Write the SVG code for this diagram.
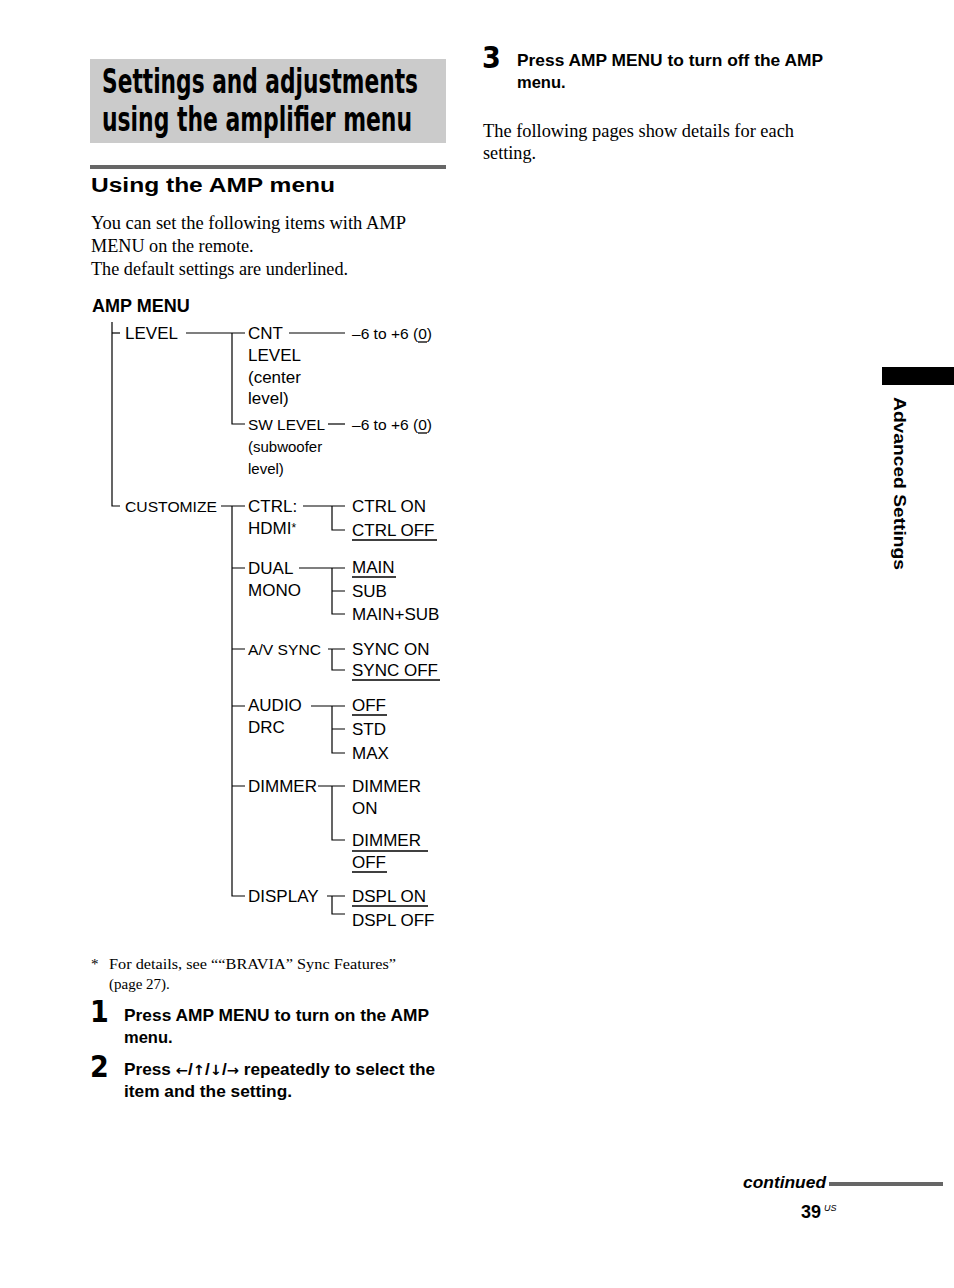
<svg xmlns="http://www.w3.org/2000/svg" width="954" height="1288" viewBox="0 0 954 1288">
<style>
.title{font-family:"Liberation Sans Narrow","DejaVu Sans Condensed","Liberation Sans",sans-serif;font-weight:bold;font-size:34px;fill:#000}
.h2{font-family:"Liberation Sans",sans-serif;font-weight:900;font-size:20px;fill:#000}
.body{font-family:"Liberation Serif",serif;font-size:18.2px;fill:#000}
.foot{font-family:"Liberation Serif",serif;font-size:15px;fill:#000}
.hd{font-family:"Liberation Sans",sans-serif;font-weight:bold;font-size:18px;fill:#000}
.t{font-family:"Liberation Sans",sans-serif;font-size:17px;fill:#000}
.ts{font-family:"Liberation Sans",sans-serif;font-size:15px;fill:#000}
.step{font-family:"Liberation Sans",sans-serif;font-weight:bold;font-size:16.5px;fill:#000}
.num{font-family:"Liberation Sans Narrow","DejaVu Sans Condensed","Liberation Sans",sans-serif;font-weight:bold;font-size:30px;fill:#000}
.ar{font-family:"DejaVu Sans",sans-serif;font-weight:bold;font-size:14px}
.ln{stroke:#000;stroke-width:1.2;fill:none}
.ul{stroke:#000;stroke-width:1.3}
</style>
<rect x="0" y="0" width="954" height="1288" fill="#fff"/>
<g id="header">
<rect x="90" y="59" width="356" height="84" fill="#cbcbcb"/>
<text class="title" x="102" y="93" textLength="316" lengthAdjust="spacingAndGlyphs">Settings and adjustments</text>
<text class="title" x="102" y="131" textLength="310" lengthAdjust="spacingAndGlyphs">using the amplifier menu</text>
<rect x="90" y="165" width="356" height="4" fill="#666"/>
<text class="h2" x="91" y="192" textLength="244" lengthAdjust="spacingAndGlyphs">Using the AMP menu</text>
<text class="body" x="91" y="229" textLength="315" lengthAdjust="spacingAndGlyphs">You can set the following items with AMP</text>
<text class="body" x="91" y="252">MENU on the remote.</text>
<text class="body" x="91" y="275">The default settings are underlined.</text>
</g>
<g id="connectors">
<path class="ln" d="M112 322 V506 H120"/>
<path class="ln" d="M112 333 H120"/>
<path class="ln" d="M186 333 H245 M232 333 V424 H245"/>
<path class="ln" d="M289 333 H345"/>
<path class="ln" d="M328 424 H345"/>
<path class="ln" d="M221 506 H245 M232 506 V896 H245 M232 568 H245 M232 649 H245 M232 706 H245 M232 786 H245"/>
<path class="ln" d="M303 506 H345 M332 506 V530 H345"/>
<path class="ln" d="M299 568 H345 M332 568 V614 H345 M332 591 H345"/>
<path class="ln" d="M328 649 H345 M332 649 V670 H345"/>
<path class="ln" d="M311 706 H345 M332 706 V753 H345 M332 729 H345"/>
<path class="ln" d="M318 786 H345 M332 786 V840 H345"/>
<path class="ln" d="M327 896 H345 M332 896 V914 H345"/>
</g>
<g id="amp-menu"><text class="hd" x="92" y="312">AMP MENU</text></g>
<g id="level"><text class="t" x="125" y="339">LEVEL</text></g>
<g id="cnt-level">
<text class="t" x="248" y="339">CNT</text>
<text class="t" x="248" y="361">LEVEL</text>
<text class="t" x="248" y="383">(center</text>
<text class="t" x="248" y="404">level)</text>
</g>
<g id="cnt-range"><text class="ts" x="352" y="339" textLength="80" lengthAdjust="spacingAndGlyphs">–6 to +6 (0)</text><line class="ul" x1="418" y1="342" x2="427" y2="342"/></g>
<g id="sw-level">
<text class="ts" x="248" y="430" textLength="77" lengthAdjust="spacingAndGlyphs">SW LEVEL</text>
<text class="ts" x="248" y="452">(subwoofer</text>
<text class="ts" x="248" y="474">level)</text>
</g>
<g id="sw-range"><text class="ts" x="352" y="430" textLength="80" lengthAdjust="spacingAndGlyphs">–6 to +6 (0)</text><line class="ul" x1="418" y1="433" x2="427" y2="433"/></g>
<g id="customize"><text class="ts" x="125" y="512" textLength="92" lengthAdjust="spacingAndGlyphs">CUSTOMIZE</text></g>
<g id="ctrl-hdmi">
<text class="t" x="248" y="512">CTRL:</text>
<text class="t" x="248" y="534">HDMI<tspan font-size="12" dy="-2">*</tspan></text>
</g>
<g id="ctrl-on"><text class="t" x="352" y="512">CTRL ON</text></g>
<g id="ctrl-off"><text class="t" x="352" y="536">CTRL OFF</text><line class="ul" x1="352" y1="540" x2="437" y2="540"/></g>
<g id="dual-mono">
<text class="t" x="248" y="574">DUAL</text>
<text class="t" x="248" y="596">MONO</text>
</g>
<g id="main"><text class="t" x="352" y="573">MAIN</text><line class="ul" x1="352" y1="577" x2="396" y2="577"/></g>
<g id="sub"><text class="t" x="352" y="597">SUB</text></g>
<g id="main-sub"><text class="t" x="352" y="620">MAIN+SUB</text></g>
<g id="av-sync"><text class="ts" x="248" y="655" textLength="73" lengthAdjust="spacingAndGlyphs">A/V SYNC</text></g>
<g id="sync-on"><text class="t" x="352" y="655">SYNC ON</text></g>
<g id="sync-off"><text class="t" x="352" y="676">SYNC OFF</text><line class="ul" x1="352" y1="680" x2="440" y2="680"/></g>
<g id="audio-drc">
<text class="t" x="248" y="711">AUDIO</text>
<text class="t" x="248" y="733">DRC</text>
</g>
<g id="off"><text class="t" x="352" y="711">OFF</text><line class="ul" x1="352" y1="715" x2="387" y2="715"/></g>
<g id="std"><text class="t" x="352" y="735">STD</text></g>
<g id="max"><text class="t" x="352" y="759">MAX</text></g>
<g id="dimmer"><text class="t" x="248" y="792">DIMMER</text></g>
<g id="dimmer-on">
<text class="t" x="352" y="792">DIMMER</text>
<text class="t" x="352" y="814">ON</text>
</g>
<g id="dimmer-off">
<text class="t" x="352" y="846">DIMMER</text>
<line class="ul" x1="352" y1="851" x2="428" y2="851"/>
<text class="t" x="352" y="868">OFF</text>
<line class="ul" x1="352" y1="872" x2="387" y2="872"/>
</g>
<g id="display"><text class="t" x="248" y="902">DISPLAY</text></g>
<g id="dspl-on"><text class="t" x="352" y="902">DSPL ON</text><line class="ul" x1="352" y1="906" x2="428" y2="906"/></g>
<g id="dspl-off"><text class="t" x="352" y="926">DSPL OFF</text></g>
<g id="footnote">
<text class="foot" x="91" y="969">*</text>
<text class="foot" x="109" y="969" textLength="287" lengthAdjust="spacingAndGlyphs">For details, see ““BRAVIA” Sync Features”</text>
<text class="foot" x="109" y="989">(page 27).</text>
</g>
<g id="steps">
<text class="num" x="90" y="1022">1</text>
<text class="step" x="124" y="1021" textLength="305" lengthAdjust="spacingAndGlyphs">Press AMP MENU to turn on the AMP</text>
<text class="step" x="124" y="1043">menu.</text>
<text class="num" x="90" y="1077">2</text>
<text class="step" x="124" y="1075" textLength="311" lengthAdjust="spacingAndGlyphs">Press <tspan class="ar">←</tspan>/<tspan class="ar">↑</tspan>/<tspan class="ar">↓</tspan>/<tspan class="ar">→</tspan> repeatedly to select the</text>
<text class="step" x="124" y="1097" textLength="168" lengthAdjust="spacingAndGlyphs">item and the setting.</text>
<text class="num" x="482" y="68">3</text>
<text class="step" x="517" y="66" textLength="306" lengthAdjust="spacingAndGlyphs">Press AMP MENU to turn off the AMP</text>
<text class="step" x="517" y="88">menu.</text>
<text class="body" x="483" y="137" textLength="311" lengthAdjust="spacingAndGlyphs">The following pages show details for each</text>
<text class="body" x="483" y="159">setting.</text>
</g>
<g id="side-tab">
<rect x="882" y="367" width="72" height="18" fill="#000"/>
<text class="step" transform="translate(894 397) rotate(90)" textLength="173" lengthAdjust="spacingAndGlyphs">Advanced Settings</text>
</g>
<g id="footer">
<text class="step" x="743" y="1188" font-style="italic" textLength="83" lengthAdjust="spacingAndGlyphs">continued</text>
<rect x="829" y="1182" width="114" height="4" fill="#666"/>
<text class="hd" x="801" y="1218">39</text>
<text x="824" y="1211" font-family="Liberation Sans,sans-serif" font-style="italic" font-size="9">US</text>
</g>
</svg>
